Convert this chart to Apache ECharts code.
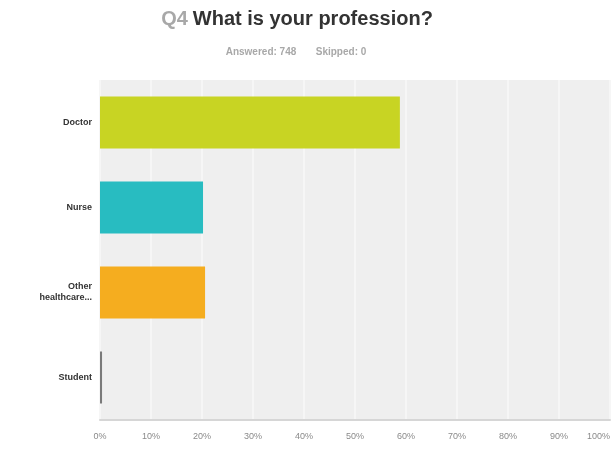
<!DOCTYPE html>
<html>
<head>
    <meta charset="utf-8">
    <title>Q4 What is your profession?</title>
    <script src="https://cdn.jsdelivr.net/npm/echarts@6/dist/echarts.min.js"></script>
    <style>
        html, body { margin: 0; padding: 0; background: #fff; }
    </style>
</head>
<body>
<div id="main" style="width: 615px;height:449px;"></div>
<script type="text/javascript">
    // data
    var categories = ['Doctor', 'Nurse', 'Other\nhealthcare...', 'Student'];
    var percents = [58.8, 20.2, 20.6, 0.4];
    var barColors = ['#c8d423', '#28bcc1', '#f5ad1f', '#7a7a7a'];
    var tickValues = [0, 10, 20, 30, 40, 50, 60, 70, 80, 90, 100];
    var answered = 748;
    var skipped = 0;

    var myChart = echarts.init(document.getElementById('main'));

    var option = {
        backgroundColor: '#ffffff',
        title: [{
            left: 292,
            top: 4,
            textAlign: 'center',
            text: '{q|Q4} {t|What is your profession?}',
            textStyle: {
                rich: {
                    q: { fontFamily: 'Liberation Sans, Arial', fontSize: 20, color: '#a8a8a8' },
                    t: { fontFamily: 'Liberation Sans, Arial', fontSize: 20, fontWeight: 'bold', color: '#333333' }
                }
            }
        }, {
            left: 291,
            top: 42,
            textAlign: 'center',
            text: 'Answered: ' + answered + '       Skipped: ' + skipped,
            textStyle: { fontFamily: 'Liberation Sans, Arial', fontSize: 10, fontWeight: 'bold', color: '#a8a8a8' }
        }],
        grid: {
            left: 100, right: 5, top: 80, bottom: 29,
            show: true,
            backgroundColor: '#efefef',
            borderWidth: 0
        },
        xAxis: {
            type: 'value',
            min: 0,
            max: 100,
            interval: 10,
            axisLine: { show: true, onZero: false, lineStyle: { color: '#d6d6d6', width: 2 } },
            axisTick: { show: false },
            splitLine: { show: true, lineStyle: { color: '#f6f6f6', width: 2 } },
            axisLabel: {
                margin: 12,
                fontFamily: 'Liberation Sans, Arial',
                fontSize: 9,
                color: '#8a8a8a',
                alignMaxLabel: 'right',
                formatter: function (v) { return tickValues.indexOf(v) >= 0 ? v + '%' : ''; }
            }
        },
        yAxis: {
            type: 'category',
            inverse: true,
            data: categories,
            axisLine: { show: false },
            axisTick: { show: false },
            axisLabel: {
                margin: 8,
                fontFamily: 'Liberation Sans, Arial',
                fontSize: 9,
                fontWeight: 'bold',
                color: '#333333',
                lineHeight: 11,
                align: 'right'
            }
        },
        series: [{
            type: 'bar',
            barWidth: 52,
            data: percents.map(function (v, i) {
                return { value: v, itemStyle: { color: barColors[i] } };
            })
        }]
    };
    myChart.setOption(option);
</script>
</body>
</html>
